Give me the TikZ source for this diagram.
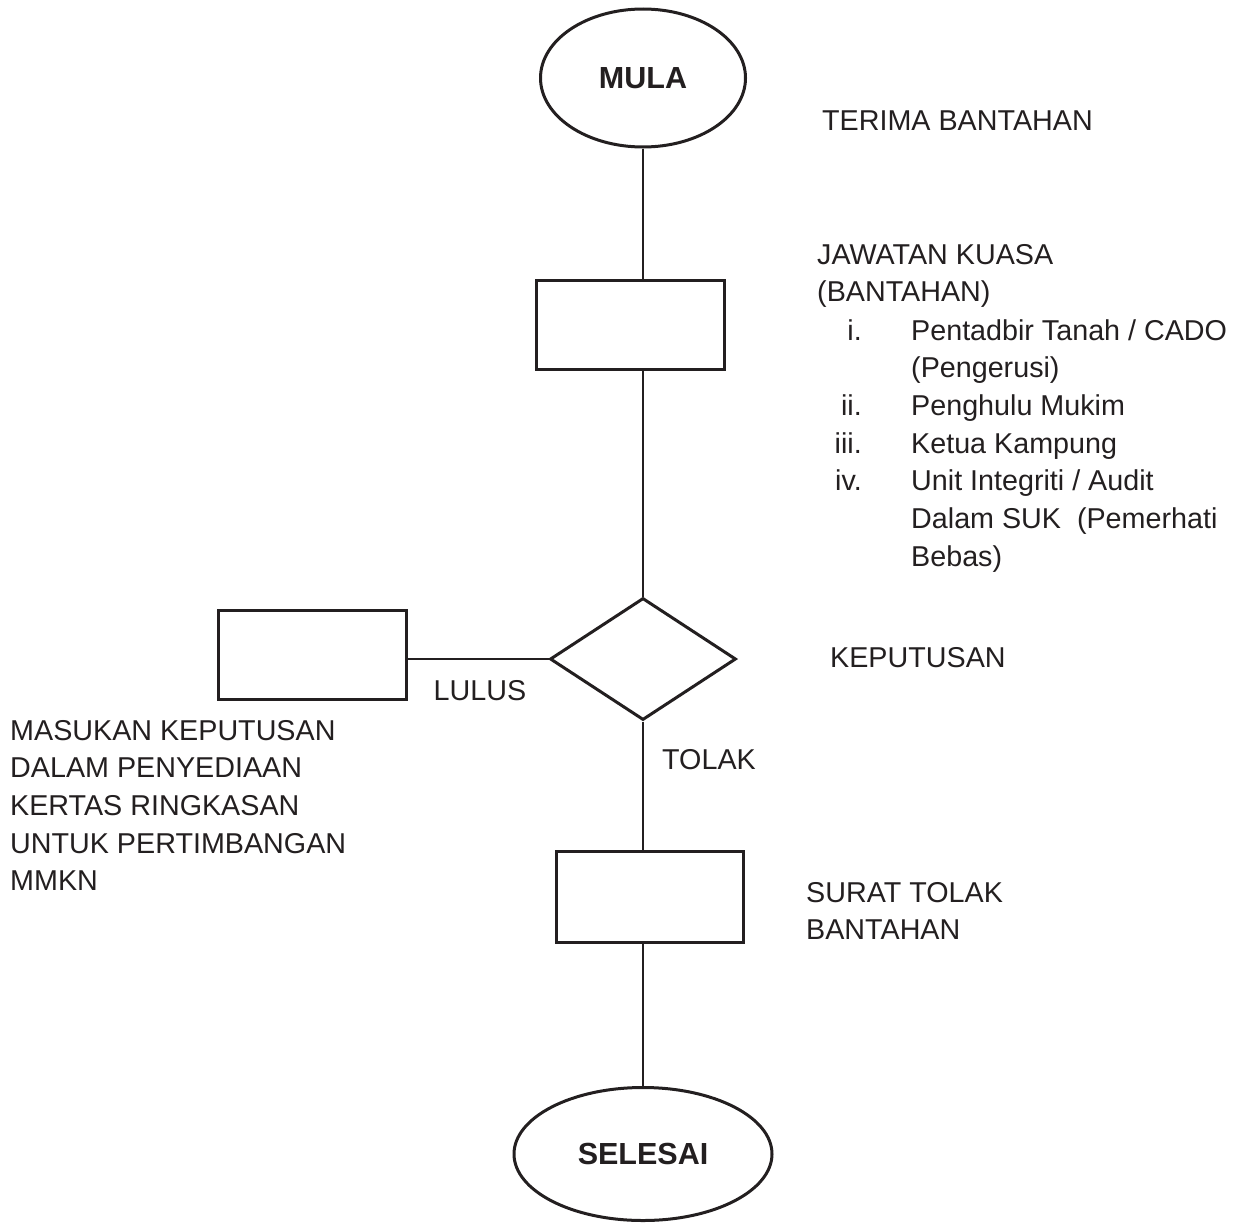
\documentclass[tikz,border=0pt]{standalone}
\usepackage{fontspec}
\setmainfont{Liberation Sans}
\usetikzlibrary{shapes.geometric}
\definecolor{ink}{HTML}{231F20}

\begin{document}
\begin{tikzpicture}[x=1pt,y=-1pt,
  font=\fontsize{28.7}{37.7}\selectfont,text=ink,
  terminal/.style={draw=ink,line width=3pt,ellipse,inner sep=0pt,
                   font=\fontsize{30.5}{36}\selectfont\bfseries},
  prosesbox/.style={draw=ink,line width=3.5pt,inner sep=0pt},
  keterangan/.style={inner sep=0pt,anchor=base west,align=left},
  link/.style={draw=ink,line width=1.3pt}]
  \useasboundingbox (0,0) rectangle (1242,1226);
  % flow shapes
  \node[terminal,minimum width=205pt,minimum height=138pt] (mula) at (643,78) {MULA};
  \node[prosesbox,minimum width=188pt,minimum height=89pt] (jk) at (630.5,325) {};
  \node[diamond,draw=ink,line width=3pt,inner sep=0pt,
        minimum width=186pt,minimum height=122pt] (kep) at (643,659) {};
  \node[prosesbox,minimum width=188pt,minimum height=89pt] (masuk) at (312.5,655) {};
  \node[prosesbox,minimum width=187pt,minimum height=91pt] (surat) at (650,897) {};
  \node[terminal,minimum width=258pt,minimum height=133pt] (selesai) at (643,1154) {SELESAI};
  % connectors
  \draw[link] (mula.south) -- (mula.south |- jk.north);
  \draw[link] (mula.south |- jk.south) -- (kep.north);
  \draw[link] (kep.west) -- (kep.west -| masuk.east);
  \draw[link] (kep.south) -- (kep.south |- surat.north);
  \draw[link] (kep.south |- surat.south) -- (selesai.north);
  % labels (multi-line ones sit on their last line)
  \node[keterangan] (terima) at (822,130) {TERIMA BANTAHAN};
  \node[keterangan] (jkhead) at (817,301.7) {JAWATAN KUASA\\(BANTAHAN)};
  \node[inner sep=0pt,anchor=base east,align=right] (nombor) at (862,490.8)
       {i.\\\mbox{}\\ii.\\iii.\\iv.};
  \node[keterangan] (ahli) at (911,566.2)
       {Pentadbir Tanah / CADO\\(Pengerusi)\\Penghulu Mukim\\Ketua Kampung\\
        Unit Integriti / Audit\\Dalam SUK~~(Pemerhati\\Bebas)};
  \node[keterangan] (keptxt) at (830,667) {KEPUTUSAN};
  \node[keterangan] (masuktxt) at (10,890.8)
       {MASUKAN KEPUTUSAN\\DALAM PENYEDIAAN\\KERTAS RINGKASAN\\UNTUK PERTIMBANGAN\\MMKN};
  \node[keterangan] (surattxt) at (806,939.7) {SURAT TOLAK\\BANTAHAN};
  \node[inner sep=0pt,anchor=base] (lulus) at (480,700) {LULUS};
  \node[inner sep=0pt,anchor=base] (tolak) at (709,769) {TOLAK};
\end{tikzpicture}
\end{document}
